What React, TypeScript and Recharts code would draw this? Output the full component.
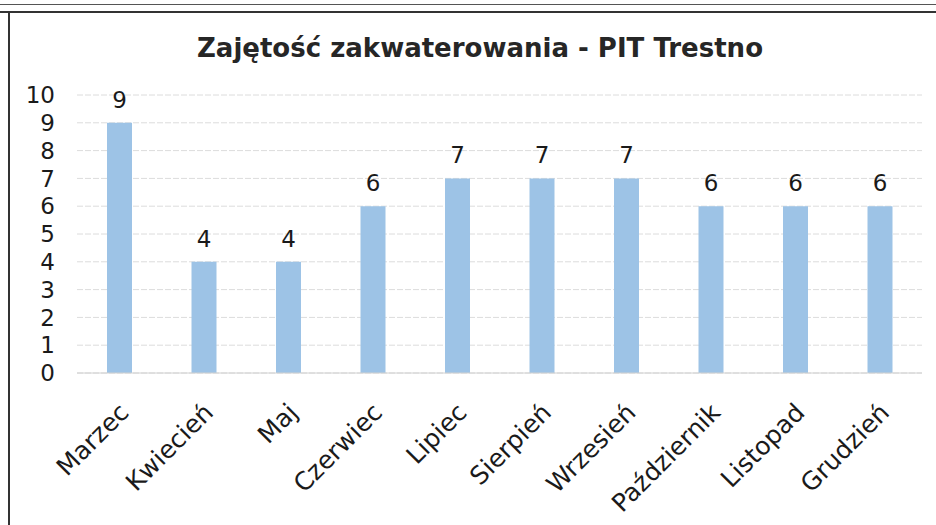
import React from 'react';
import { BarChart, Bar, XAxis, YAxis, CartesianGrid, LabelList } from 'recharts';

const months = ['Marzec', 'Kwiecień', 'Maj', 'Czerwiec', 'Lipiec', 'Sierpień', 'Wrzesień', 'Październik', 'Listopad', 'Grudzień'];
const occupancy = [9, 4, 4, 6, 7, 7, 7, 6, 6, 6];
const yTicks = [0, 1, 2, 3, 4, 5, 6, 7, 8, 9, 10];
const title = 'Zajętość zakwaterowania - PIT Trestno';

const data = months.map((m, i) => ({ month: m, value: occupancy[i] }));

const FONT = '"DejaVu Sans", Verdana, sans-serif';

const XTick = (props: any) => {
  const { x, y, payload } = props;
  const ax = x + 11;
  const ay = y + 33;
  return (
    <text
      x={ax}
      y={ay}
      textAnchor="end"
      transform={`rotate(-45, ${ax}, ${ay})`}
      fontSize={25}
      fontFamily={FONT}
      fill="#1a1a1a"
    >
      {payload.value}
    </text>
  );
};

export default function App() {
  return (
    <div style={{ position: 'absolute', left: 0, top: 0, width: 936, height: 525, background: '#fff', overflow: 'hidden' }}>
      <div style={{ position: 'absolute', left: 0, top: 4, width: 936, height: 1, background: '#555' }} />
      <div style={{ position: 'absolute', left: 0, top: 11, width: 936, height: 2, background: '#333' }} />
      <div style={{ position: 'absolute', left: 8, top: 11, width: 2, height: 514, background: '#333' }} />
      <div style={{ position: 'absolute', left: 0, top: 0 }}>
        <BarChart width={936} height={525} data={data} margin={{ top: 95, right: 14, left: 0, bottom: 0 }}>
          <text x={480} y={57} textAnchor="middle" fontSize={26} fontWeight="bold" fontFamily={FONT} fill="#262626">
            {title}
          </text>
          <CartesianGrid vertical={false} stroke="#dcdcdc" strokeDasharray="6 2" />
          <XAxis
            dataKey="month"
            height={152}
            interval={0}
            tickLine={false}
            axisLine={{ stroke: '#d0d0d0' }}
            tick={<XTick />}
          />
          <YAxis
            width={77}
            domain={[0, 10]}
            ticks={yTicks}
            interval={0}
            axisLine={false}
            tickLine={false}
            tickSize={0}
            tickMargin={22}
            tick={{ fontSize: 23, fontFamily: FONT, fill: '#1a1a1a' }}
          />
          <Bar dataKey="value" fill="#9dc3e6" barSize={25} isAnimationActive={false}>
            <LabelList dataKey="value" position="top" offset={15} fontSize={23} fontFamily={FONT} fill="#1a1a1a" />
          </Bar>
        </BarChart>
      </div>
    </div>
  );
}
